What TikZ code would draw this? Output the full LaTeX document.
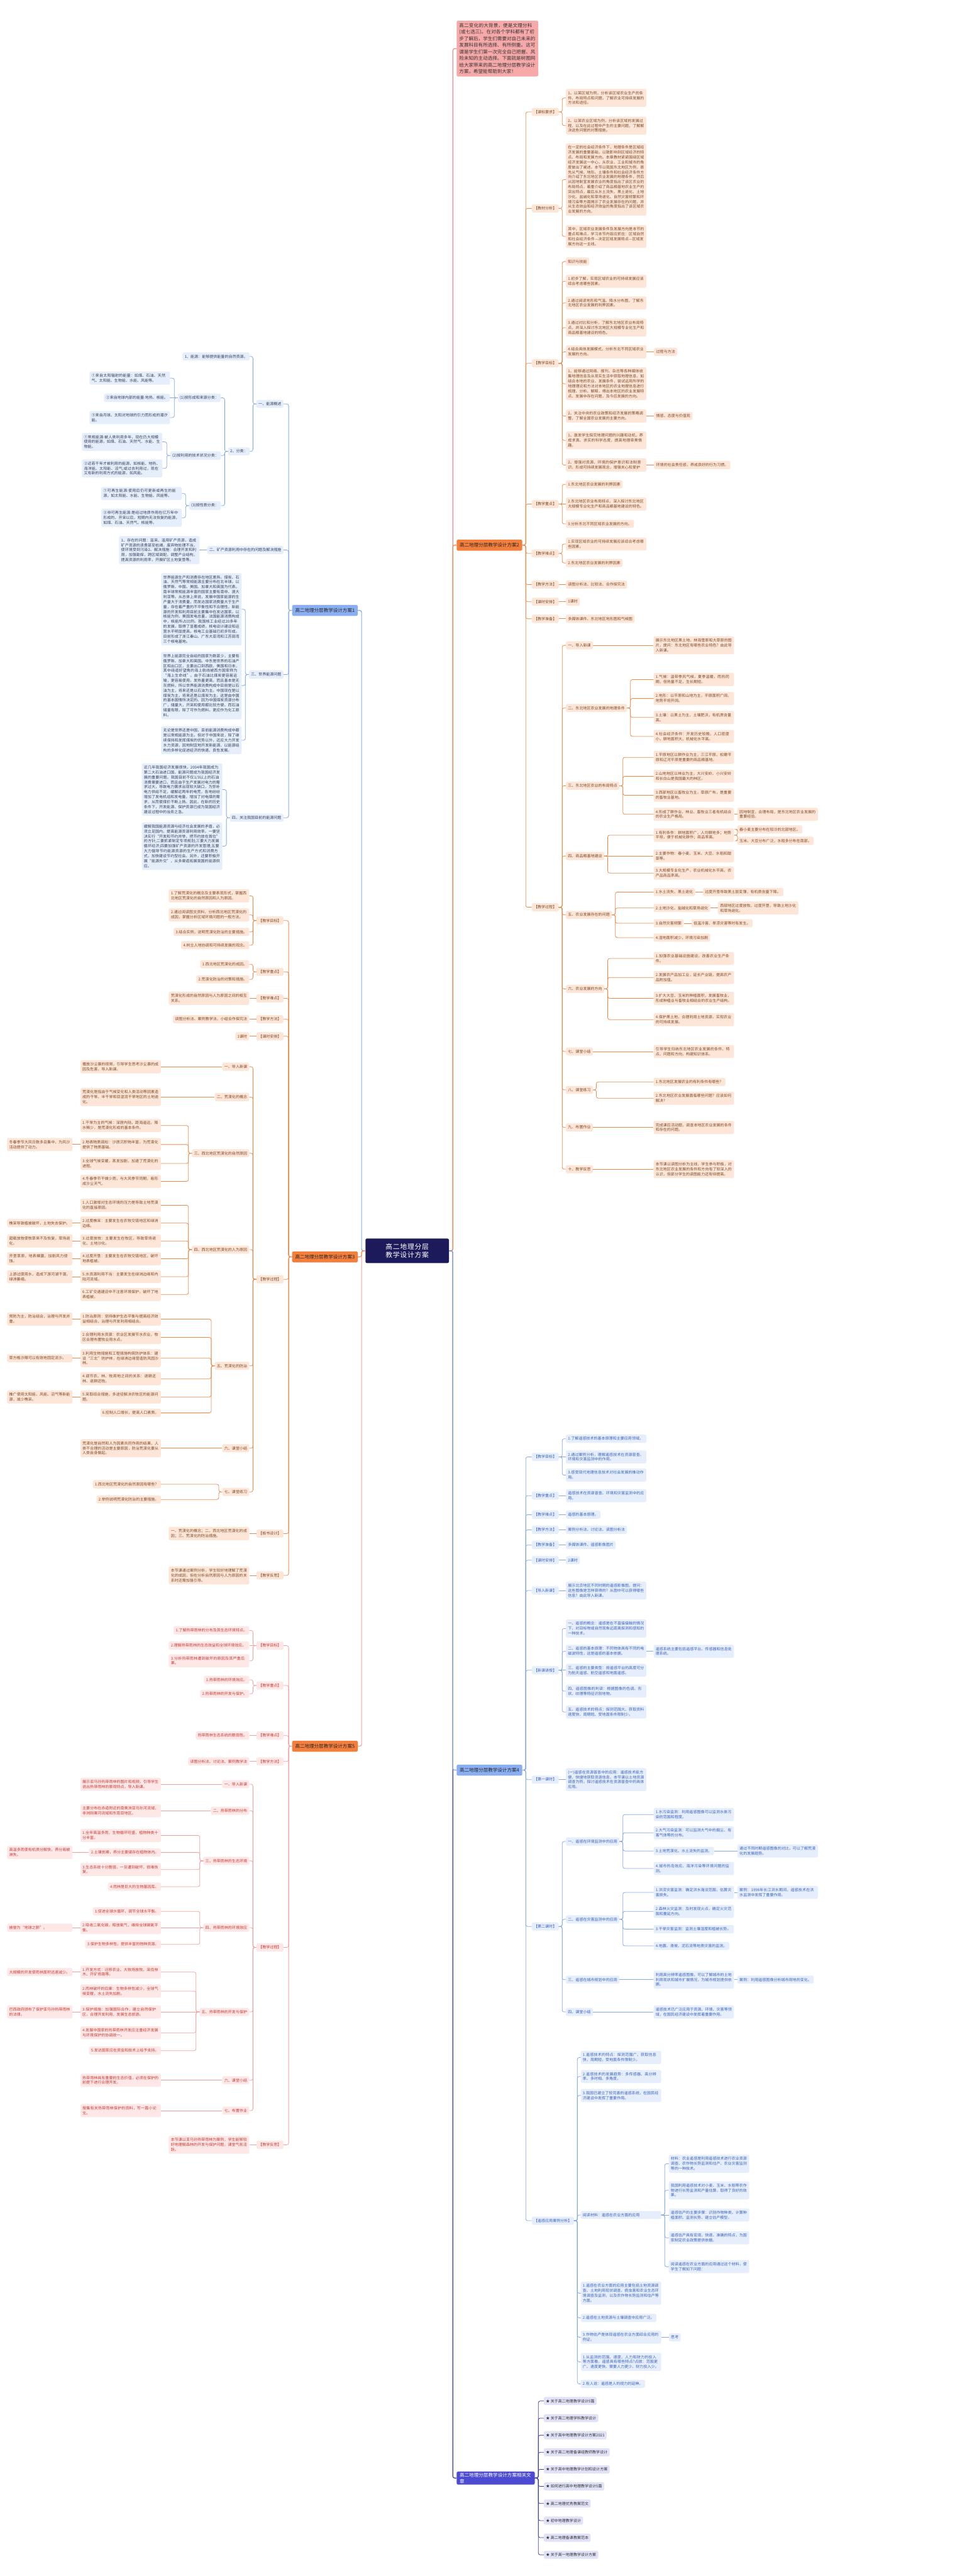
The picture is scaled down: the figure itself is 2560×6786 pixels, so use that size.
\documentclass[tikz,border=0pt]{standalone}
\usepackage{fontspec}
\setmainfont{Noto Sans CJK SC}
\XeTeXlinebreaklocale "zh"
\XeTeXlinebreakskip=0pt plus 1pt
\usetikzlibrary{positioning}
\definecolor{navy}{HTML}{1D1A5B}
\definecolor{rosefill}{HTML}{F7A9A9}
\definecolor{roseline}{HTML}{EC8E8E}
\definecolor{skyfill}{HTML}{89AFF2}
\definecolor{skyline}{HTML}{86A9E4}
\definecolor{skyleaf}{HTML}{E6EEFB}
\definecolor{slate}{HTML}{35415E}
\definecolor{bluetext}{HTML}{3A62BE}
\definecolor{tangerine}{HTML}{F47F3D}
\definecolor{orangeline}{HTML}{E98C4B}
\definecolor{peach}{HTML}{FDE6D7}
\definecolor{umber}{HTML}{7E4A2A}
\definecolor{pinkleaf}{HTML}{FDE7E7}
\definecolor{crimson}{HTML}{C93B33}
\definecolor{pinkline}{HTML}{F2A1A1}
\definecolor{indigo}{HTML}{4C4BD2}
\definecolor{lavender}{HTML}{E1E1F8}
\definecolor{indline}{HTML}{3E3EA8}

\begin{document}
\begin{tikzpicture}[x=1pt,y=-1pt,
  box/.style={font=\fontsize{10}{13}\selectfont, inner xsep=5.5pt, inner ysep=6pt, rounded corners=3pt},
  leaf/.style={box, text width=201pt, align=left},
  slim/.style={box, text width=161pt, align=left},
  org/.style={fill=peach, text=umber},
  sky/.style={fill=skyleaf, text=slate},
  sea/.style={fill=skyleaf, text=bluetext},
  rose/.style={fill=pinkleaf, text=crimson},
  lav/.style={fill=lavender, text=black!80},
  topic/.style={font=\fontsize{12.5}{16}\selectfont, inner xsep=8pt, minimum height=29pt, rounded corners=4pt, text=black!85},
  lo/.style={draw=orangeline, line width=1.3pt, rounded corners=5pt},
  lb/.style={draw=skyline, line width=1.3pt, rounded corners=5pt},
  lp/.style={draw=pinkline, line width=1.3pt, rounded corners=5pt},
  li/.style={draw=indline, line width=1.3pt, rounded corners=5pt},
  lr/.style={draw=roseline, line width=1.3pt, rounded corners=5pt},
  trunk/.style={line width=2pt}]

\fill[white] (0,0) rectangle (2560,6786);
\useasboundingbox (0,0) rectangle (2560,6786);

% centre and main topics
\node[fill=navy, text=white, font=\fontsize{18}{22}\selectfont, text width=199pt, align=center,
  inner xsep=10.5pt, inner ysep=13pt, rounded corners=4pt] (root) at (1073,3295) {高二地理分层教学设计方案};

\node[fill=rosefill, text=black!80, font=\fontsize{12.5}{17.3}\selectfont, text width=201pt, align=left,
  inner xsep=7pt, inner ysep=7pt, rounded corners=4pt, anchor=west] (intro) at (1203,128)
  {高二变化的大背景，便是文理分科(或七选三)。在对各个学科都有了初步了解后，学生们需要对自己未来的发展科目有所选择、有所侧重。这可谓是学生们第一次完全自己把握、风险未知的主动选择。下面就是树图网给大家带来的高二地理分层教学设计方案，希望能帮助到大家！};

\node[topic, fill=skyfill, anchor=east] (pa) at (943,1608) {高二地理分层教学设计方案1};
\node[topic, fill=tangerine, anchor=west] (pb) at (1203,1436) {高二地理分层教学设计方案2};
\node[topic, fill=tangerine, anchor=east] (pc) at (943,3311) {高二地理分层教学设计方案3};
\node[topic, fill=skyfill, anchor=west] (pd) at (1203,4663) {高二地理分层教学设计方案4};
\node[topic, fill=tangerine, anchor=east] (pe) at (943,4600) {高二地理分层教学设计方案5};
\node[topic, fill=indigo, text=white, text width=190pt, align=left, anchor=west] (pf) at (1203,6528) {高二地理分层教学设计方案相关文章};

% ---------- 方案2 ----------
\foreach \n/\y/\w in {b1/295/课标要求, b2/549/教材分析, b3/957/教学目标, b4/1328/教学重点, b5/1458/教学难点,
  b6/1540/教学方法, b7/1585/课时安排, b8/1630/教学准备, b9/2390/教学过程}
  \node[box,org,anchor=west] (\n) at (1401,\y) {【\w】};

\foreach \n/\y/\w in {
  b1a/258/1、以某区域为例，分析该区域农业生产的条件、布局特点和问题，了解农业可持续发展的方法和途径。,
  b1b/331/2、以某农业区域为例，分析该区域的发展过程，以及在此过程中产生的主要问题，了解解决这些问题的对策措施。,
  b2a/473/在一定的社会经济条件下，地理条件是区域经济发展的重要基础，以致影响到区域经济的特点、布局和发展方向。本章教材紧紧围绕区域经济发展这一中心，从农业、工业和城市的角度做出了阐述。本节以我国东北地区为例，首先从气候、地形、土壤条件和社会经济条件方向介绍了东北地区农业发展的地理条件，然后从因地制宜发展农业的角度指出了该区农业的布局特点，着重介绍了商品粮基地农业生产的突出特点，最后从水土流失、黑土退化、土地沙化、盐碱化和草场退化、自然灾害频繁和环境污染等方面揭示了农业发展存在的问题，并从生态效益和经济效益的角度指出了该区域农业发展的方向。,
  b2b/623/其中，区域农业发展条件及发展方向是本节的重点和难点，学习本节内容应抓住：区域自然和社会经济条件—决定区域发展特点—区域发展方向这一主线。,
  b3b/741/1.初步了解，实现区域农业的可持续发展应该综合考虑哪些因素。,
  b3c/798/2.通过阅读地形和气温、降水分布图，了解东北地区农业发展的利弊因素。,
  b3d/863/3.通过对比和分析，了解东北地区农业布局特点，并深入探讨东北地区大规模专业化生产和商品粮基地建设的特色。,
  b3e/927/4.结合具体发展模式，分析东北不同区域农业发展的方向。,
  b3f/1011/1、能够通过网络、报刊、杂志等各种媒体收集地理信息及从现实生活中获取地理信息，如结合本地的农业、发展条件，尝试运用所学的地理理论和方法对本地区的农业地理信息进行梳理、分析、解释，得出本地区的农业发展特点、发展中存在问题，及今后发展的方向。,
  b3g/1096/2、关注中央的农业政策和经济发展的策略调整，了解全国农业发展的主要方向。,
  b3h/1160/1、激发学生探究地理问题的兴趣和动机，养成求真、求实的科学态度，提高地理审美情趣。,
  b3i/1225/2、增强对资源、环境的保护意识和法制意识，形成可持续发展观念，增强关心和爱护,
  b4b/1328/2.东北地区农业布局特点，深入探讨东北地区大规模专业化生产和商品粮基地建设的特色。,
  b5a/1433/1.实现区域农业的可持续发展应该综合考虑哪些因素。}
  \node[leaf,org,anchor=west] (\n) at (1491,\y) {\w};

\foreach \n/\y/\w in {b3a/689/知识与技能, b4a/1276/1.东北地区农业发展的利弊因素, b4c/1380/3.分析东北不同区域农业发展的方向。,
  b5b/1483/2.东北地区农业发展的利弊因素, b6a/1540/读图分析法、比较法、合作探究法, b7a/1585/1课时,
  b8a/1630/多媒体课件、东北地区地形图和气候图,
  bp1/1700/一、导入新课, bp2/1865/二、东北地区农业发展的地理条件, bp3/2070/三、东北地区农业的布局特点,
  bp4/2255/四、商品粮基地建设, bp5/2410/五、农业发展存在的问题, bp6/2605/六、农业发展的方向,
  bp7/2770/七、课堂小结, bp8/2871/八、课堂练习, bp9/2970/九、布置作业, bp10/3080/十、教学反思}
  \node[box,org,anchor=west] (\n) at (1491,\y) {\w};

\node[box,org,right=20pt of b3e] (b3ex) {过程与方法};
\node[box,org,right=20pt of b3g] (b3gx) {情感、态度与价值观};
\node[box,org,right=20pt of b3i] (b3ix) {环境的社会责任感，养成良好的行为习惯。};

\foreach \n/\y/\w in {
  bp1a/1700/展示东北地区黑土地、林海雪原和大草原的图片，提问：东北地区有哪些农业特色？由此导入新课。,
  bp2a/1790/1.气候：温带季风气候，夏季温暖，雨热同期，但热量不足，生长期短。,
  bp2b/1840/2.地形：以平原和山地为主，平原面积广阔，地势平坦开阔。,
  bp2c/1890/3.土壤：以黑土为主，土壤肥沃，有机质含量高。,
  bp2d/1940/4.社会经济条件：开发历史较晚，人口密度小，耕地面积大，机械化水平高。,
  bp3a/1995/1.平原地区以耕作业为主，三江平原、松嫩平原和辽河平原是重要的商品粮基地。,
  bp3b/2045/2.山地地区以林业为主，大兴安岭、小兴安岭和长白山是我国最大的林区。,
  bp3c/2095/3.西部地区以畜牧业为主，草原广布，是重要的畜牧业基地。,
  bp3d/2145/4.形成了耕作业、林业、畜牧业三者有机结合的农业生产格局。,
  bp4a/2200/1.有利条件：耕地面积广，人均耕地多；地势平坦，便于机械化耕作；商品率高。,
  bp4b/2255/2.主要作物：春小麦、玉米、大豆、水稻和甜菜等。,
  bp4c/2300/3.大规模专业化生产，农业机械化水平高，农产品商品率高。,
  bp6a/2525/1.加强农业基础设施建设，改善农业生产条件。,
  bp6b/2575/2.发展农产品加工业，延长产业链，提高农产品附加值。,
  bp6c/2630/3.扩大大豆、玉米的种植面积，发展畜牧业，形成种植业与畜牧业相结合的农业生产结构。,
  bp6d/2686/4.保护黑土地，合理利用土地资源，实现农业的可持续发展。,
  bp7a/2770/引导学生归纳东北地区农业发展的条件、特点、问题和方向，构建知识体系。,
  bp8b/2893/2.东北地区农业发展面临哪些问题？应该如何解决？,
  bp9a/2970/完成课后活动题，调查本地区农业发展的条件和存在的问题。,
  bp10a/3080/本节课以读图分析为主线，学生参与积极，对东北地区农业发展的条件和方向有了较深入的认识，但部分学生的读图能力还有待提高。}
  \node[leaf,org,anchor=west] (\n) at (1722,\y) {\w};

\foreach \n/\y/\w in {bp5a/2350/1.水土流失、黑土退化, bp5b/2392/2.土地沙化、盐碱化和草场退化,
  bp5c/2432/3.自然灾害频繁, bp5d/2470/4.湿地面积减少，环境污染加剧, bp8a/2850/1.东北地区发展农业的有利条件有哪些？}
  \node[box,org,anchor=west] (\n) at (1722,\y) {\w};

\node[leaf,org,anchor=west] (bp3dx) at (1943,2145) {因地制宜，合理布局，是东北地区农业发展的重要经验。};
\node[box,org,anchor=west] (bp4a1) at (1943,2185) {春小麦主要分布在较冷的北部地区。};
\node[box,org,anchor=west] (bp4a2) at (1943,2215) {玉米、大豆分布广泛，水稻多分布在南部。};
\node[leaf,org,right=20pt of bp5a] (bp5ax) {过度开垦导致黑土层变薄，有机质含量下降。};
\node[leaf,org,right=20pt of bp5b] (bp5bx) {西部地区过度放牧、过度开垦，导致土地沙化和草场退化。};
\node[box,org,right=20pt of bp5c] (bp5cx) {低温冷害、旱涝灾害等时有发生。};

% ---------- 方案1 ----------
\foreach \n/\y/\w in {a1/1064/一、能源概述, a2/1449/二、矿产资源利用中存在的问题及解决措施,
  a3/1777/三、世界能源问题, a4/2154/四、关注我国目前的能源问题}
  \node[box,sky,anchor=east] (\n) at (747,\y) {\w};
\node[box,sky,anchor=east] (a1a) at (658,939) {1、能源：能够提供能量的自然资源。};
\node[box,sky,anchor=east] (a1b) at (658,1189) {2、分类：};
\node[box,sky,anchor=east] (a1b1) at (582,1048) {(1)按形成和来源分类：};
\node[box,sky,anchor=east] (a1b2) at (582,1200) {(2)按利用的技术状况分类：};
\node[box,sky,anchor=east] (a1b3) at (582,1332) {(3)按性质分类：};
\node[leaf,sky,anchor=east] (x1) at (448,996) {①来自太阳辐射的能量：如煤、石油、天然气、太阳能、生物能、水能、风能等。};
\node[box,sky,anchor=east] (x2) at (448,1048) {②来自地球内部的能量:地热、核能。};
\node[leaf,sky,anchor=east] (x3) at (448,1100) {③来自月球、太阳对地球的引力而形成的潮汐能。};
\node[leaf,sky,anchor=east] (y1) at (428,1164) {①常规能源:被人类利用多年，现在仍大规模使用的能源，如煤、石油、天然气、水能、生物能。};
\node[leaf,sky,anchor=east] (y2) at (428,1234) {②近若干年才被利用的能源，如核能、地热、海洋能、太阳能、沼气;或过去利用过，现在又有新的利用方式的能源，如风能。};
\node[leaf,sky,anchor=east] (z1) at (479,1300) {①可再生能源:使用后仍可更新或再生的能源，如太阳能、水能、生物能、风能等。};
\node[leaf,sky,anchor=east] (z2) at (479,1364) {②非可再生能源:是经过地质作用在亿万年中形成的，开采以后，短期内无法恢复的能源，如煤、石油、天然气、核能等。};
\node[leaf,sky,anchor=east] (a2a) at (526,1449) {1、存在的问题：滥采、滥用矿产资源，造成矿产资源的浪费甚至枯竭，废弃物处理不当，使环境受到污染2、解决措施：合理开发和利用，加强勘探，跨区域调配，调整产业结构，提高资源的利用率，开展矿区土地复垦等。};
\node[leaf,sky,anchor=east] (a3a) at (637,1605) {世界能源生产和消费存在地区差异。煤炭、石油、天然气等常规能源主要分布在北半球。以俄罗斯、中国、美国、加拿大和英国为代表。南半球常规能源丰富的国家主要有南非、澳大利亚等。从总体上来说，发展中国家能源的生产量大于消费量，而发达国家消费量大于生产量，存在着严重的不平衡性和不合理性。新能源的开发和利用目前主要集中在发达国家。以核能为例，美国发电总量，法国能源消费构成中，核能所占比例。我国核工业经过20多年的发展，取得了显著成绩，核电设计建设和运营水平明显提高，核电工业基础已初步形成。目前形成了浙江秦山、广东大亚湾和江苏田湾三个核电基地。};
\node[leaf,sky,anchor=east] (a3b) at (637,1806) {世界上能源完全自给的国家为数甚少，主要有俄罗斯、加拿大和英国。中东是世界的石油产区和出口区，主要出口到西欧、美国和日本，其中绕道好望角的海上航线被西方国家称为“海上生命线”。由于石油比煤炭更容易运输，更容易使用，发热量更高，而且基本是无灰燃料，所以世界能源消费构成中目前是以石油为主，将来还是以石油为主。中国现在是以煤炭为主，将来还是以煤炭为主，这是由中国的基本国情所决定的。因为中国煤炭资源分布广，储量大，开采和使用都比较方便。而石油储量有限，除了可作为燃料，更应作为化工原料。};
\node[leaf,sky,anchor=east] (a3c) at (637,1950) {无论是世界还是中国，目前能源消费构成中都是以常规能源为主。但对于中国来说，除了继续保持和发挥煤炭的优势以外，还应大力开发水力资源，因地制宜地开发新能源，以能源结构的多样化促进经济的快速、良性发展。};
\node[leaf,sky,anchor=east] (a4a) at (586,2080) {近几年我国经济发展很快，2004年我国成为第二大石油进口国，能源问题成为我国经济发展的重要问题。我国目前不仅1/3以上的石油消费需要进口，而且由于生产发展对电力的需求过大，导致电力需求出现较大缺口，为弥补电力供给不足，缓解近两年的电荒，各地纷纷增加了发电机组和发电量，增加了对电煤的需求，从而使煤价不断上扬。因此，在新的历史条件下，开发能源、保护资源已成为我国经济建设过程中的当务之急。};
\node[leaf,sky,anchor=east] (a4b) at (586,2229) {缓解我国能源资源与经济社会发展的矛盾，必须立足国内，提高能源资源利用效率。一要坚决实行“开发和节约并举，把节约放在首位”的方针;二要抓紧制定专项规划;三要大力发展循环经济;四要加强矿产资源的开发管理;五要大力倡导节约能源资源的生产方式和消费方式，加快建设节约型社会。另外，还要积极开展“能源外交”，从多渠道拓展我国的能源供应。};

% ---------- 方案3 ----------
\foreach \n/\y/\w in {c1/2425/教学目标, c2/2560/教学重点, c3/2630/教学难点, c4/2685/教学方法,
  c5/2730/课时安排, c6/3370/教学过程, c7/4040/板书设计, c8/4150/教学反思}
  \node[box,org,anchor=east] (\n) at (747,\y) {【\w】};

\foreach \n/\y/\w in {
  c1a/2360/1.了解荒漠化的概念及主要表现形式，掌握西北地区荒漠化的自然原因和人为原因。,
  c1b/2410/2.通过阅读图文资料，分析西北地区荒漠化的成因，掌握分析区域环境问题的一般方法。,
  c3a/2630/荒漠化形成的自然原因与人为原因之间的相互关系。,
  c7a/4040/一、荒漠化的概念；二、西北地区荒漠化的成因；三、荒漠化的防治措施。,
  c8a/4150/本节课通过案例分析，学生较好地理解了荒漠化的成因，但在分析自然原因与人为原因的关系时还需加强引导。}
  \node[leaf,org,anchor=east] (\n) at (657,\y) {\w};

\foreach \n/\y/\w in {c1c/2455/3.结合实例，说明荒漠化防治的主要措施。, c1d/2490/4.树立人地协调和可持续发展的观念。,
  c2a/2540/1.西北地区荒漠化的成因。, c2b/2580/2.荒漠化防治的对策和措施。,
  c4a/2685/读图分析法、案例教学法、小组合作探究法, c5a/2730/1课时,
  q1/2810/一、导入新课, q2/2890/二、荒漠化的概念, q3/3038/三、西北地区荒漠化的自然原因,
  q4/3292/四、西北地区荒漠化的人为原因, q5/3598/五、荒漠化的防治, q6/3815/六、课堂小结, q7/3930/七、课堂练习}
  \node[box,org,anchor=east] (\n) at (657,\y) {\w};

\foreach \n/\y/\w in {
  q1a/2810/播放沙尘暴的视频，引导学生思考沙尘暴的成因及危害，导入新课。,
  q2a/2890/荒漠化是指由于气候变化和人类活动等因素造成的干旱、半干旱和亚湿润干旱地区的土地退化。,
  q3a/2965/1.干旱为主的气候：深居内陆，距海遥远，降水稀少，是荒漠化形成的基本条件。,
  q3b/3015/2.地表物质疏松：沙质沉积物丰富，为荒漠化提供了物质基础。,
  q3c/3065/3.全球气候变暖，蒸发加剧，加速了荒漠化的进程。,
  q3d/3112/4.冬春季节干燥少雨，与大风季节同期，易形成沙尘天气。,
  q4a/3175/1.人口激增对生态环境的压力是导致土地荒漠化的直接原因。,
  q4b/3222/2.过度樵采：主要发生在农牧交错地区和绿洲边缘。,
  q4c/3269/3.过度放牧：主要发生在牧区，导致草场退化，土地沙化。,
  q4d/3316/4.过度开垦：主要发生在农牧交错地区，破坏地表植被。,
  q4e/3363/5.水资源利用不当：主要发生在绿洲边缘和内陆河流域。,
  q4f/3410/6.工矿交通建设中不注意环境保护，破坏了地表植被。,
  q5a/3475/1.防治原则：坚持维护生态平衡与提高经济效益相结合，治理与开发利用相结合。,
  q5b/3523/2.合理利用水资源：农业区发展节水农业，牧区合理布置牧业用水点。,
  q5c/3578/3.利用生物措施和工程措施构筑防护体系：建设“三北”防护林，在绿洲边缘营造防风固沙林。,
  q5d/3632/4.调节农、林、牧用地之间的关系：退耕还林、退耕还牧。,
  q5e/3680/5.采取综合措施，多途径解决农牧区的能源问题。,
  q6a/3815/荒漠化是自然和人为因素共同作用的结果，人类不合理的活动是主要原因，防治荒漠化要从人类自身做起。}
  \node[leaf,org,anchor=east] (\n) at (424,\y) {\w};

\foreach \n/\y/\w in {q5f/3722/6.控制人口增长，提高人口素质。, q7a/3910/1.西北地区荒漠化的自然原因有哪些？,
  q7b/3950/2.举例说明荒漠化防治的主要措施。}
  \node[box,org,anchor=east] (\n) at (424,\y) {\w};

\foreach \n/\y/\w in {q3bx/3015/冬春季节大风日数多且集中，为风沙活动提供了动力。,
  q4bx/3222/樵采导致植被破坏，土地失去保护。, q4cx/3269/超载放牧使牧草来不及恢复，草场退化。,
  q4dx/3316/开垦草原，地表裸露，加剧风力侵蚀。, q4ex/3363/上游过度用水，造成下游河湖干涸，绿洲萎缩。,
  q5ax/3475/预防为主，防治结合，治理与开发并重。, q5cx/3578/草方格沙障可以有效地固定流沙。,
  q5ex/3680/推广使用太阳能、风能、沼气等新能源，减少樵采。}
  \node[slim,org,anchor=east] (\n) at (191,\y) {\w};

% ---------- 方案5 ----------
\foreach \n/\y/\w in {e1/4335/教学目标, e2/4440/教学重点, e3/4572/教学难点, e4/4640/教学方法,
  e5/5130/教学过程, e6/5650/教学反思}
  \node[box,rose,anchor=east] (\n) at (747,\y) {【\w】};

\foreach \n/\y/\w in {e1a/4295/1.了解热带雨林的分布及其生态环境特点。, e2a/4425/1.热带雨林的环境效应。,
  e2b/4462/2.热带雨林的开发与保护。, e3a/4572/热带雨林生态系统的脆弱性。, e4a/4640/读图分析法、讨论法、案例教学法,
  r1/4700/一、导入新课, r2/4770/二、热带雨林的分布, r3/4902/三、热带雨林的生态环境,
  r4/5078/四、热带雨林的环境效应, r5/5300/五、热带雨林的开发与保护, r6/5480/六、课堂小结, r7/5560/七、布置作业}
  \node[box,rose,anchor=east] (\n) at (657,\y) {\w};

\foreach \n/\y/\w in {e1b/4335/2.理解热带雨林的生态效益和全球环境效应。, e1c/4375/3.分析热带雨林遭到破坏的原因及其严重后果。,
  e6a/5650/本节课以亚马孙热带雨林为案例，学生能够较好地理解森林的开发与保护问题，课堂气氛活跃。}
  \node[leaf,rose,anchor=east] (\n) at (657,\y) {\w};

\foreach \n/\y/\w in {
  r1a/4700/展示亚马孙热带雨林的图片和视频，引导学生说出热带雨林的景观特点，导入新课。,
  r2a/4770/主要分布在赤道附近的南美洲亚马孙河流域、非洲刚果河流域和东南亚地区。,
  r3a/4835/1.全年高温多雨，生物循环旺盛，植物种类十分丰富。,
  r3c/4925/3.生态系统十分脆弱，一旦遭到破坏，很难恢复。,
  r4b/5078/2.吸收二氧化碳，释放氧气，维持全球碳氧平衡。,
  r5a/5195/1.开发方式：迁移农业、大牧场放牧、采伐林木、开矿修路等。,
  r5b/5245/2.雨林破坏的后果：生物多样性减少，全球气候变暖，水土流失加剧。,
  r5c/5300/3.保护措施：加强国际合作，建立自然保护区，合理开发利用，发展生态旅游。,
  r5d/5355/4.发展中国家的热带雨林开发应注重经济发展与环境保护的协调统一。,
  r6a/5480/热带雨林具有重要的生态价值，必须在保护的前提下进行合理开发。,
  r7a/5560/搜集有关热带雨林保护的资料，写一篇小论文。}
  \node[leaf,rose,anchor=east] (\n) at (424,\y) {\w};

\foreach \n/\y/\w in {r3b/4880/2.土壤贫瘠，养分主要储存在植物体内。, r3d/4970/4.雨林是巨大的生物基因库。,
  r4a/5035/1.促进全球水循环，调节全球水平衡。, r4c/5122/3.保护生物多样性，提供丰富的物种资源。,
  r5e/5402/5.发达国家应在资金和技术上给予支持。}
  \node[box,rose,anchor=east] (\n) at (424,\y) {\w};

\foreach \n/\y/\w in {r3bx/4880/高温多雨使有机质分解快，养分易被淋失。, r4bx/5078/被誉为“地球之肺”。,
  r5ax/5195/大规模的开发使雨林面积迅速减少。, r5cx/5300/巴西政府颁布了保护亚马孙热带雨林的法律。}
  \node[slim,rose,anchor=east] (\n) at (191,\y) {\w};

% ---------- 方案4 ----------
\foreach \n/\y/\w in {f1/3838/【教学目标】, f2/3940/【教学重点】, f3/3990/【教学难点】, f4/4030/【教学方法】,
  f5/4070/【教学准备】, f6/4110/【课时安排】, f7/4190/【导入新课】, f8/4400/【新课讲授】,
  f9/4688/【第一课时】, f10/5075/【第二课时】, f11/5850/【遥感应用案例分析】}
  \node[box,sea,anchor=west] (\n) at (1401,\y) {\w};

\foreach \n/\y/\w in {
  f1a/3790/1.了解遥感技术的基本原理和主要应用领域。,
  f1b/3838/2.通过案例分析，理解遥感技术在资源普查、环境和灾害监测中的作用。,
  f1c/3886/3.感受现代地理信息技术对社会发展的推动作用。,
  f2a/3940/遥感技术在资源普查、环境和灾害监测中的应用。,
  f7a/4190/展示北京地区不同时期的遥感影像图，提问：这些图像是怎样获得的？从图中可以获得哪些信息？由此导入新课。,
  f8a/4290/一、遥感的概念：遥感是在不直接接触的情况下，对目标物或自然现象远距离探测和感知的一种技术。,
  f8b/4350/二、遥感的基本原理：不同物体具有不同的电磁波特性，这是遥感的基本依据。,
  f8c/4400/三、遥感的主要类型：按遥感平台的高度可分为航天遥感、航空遥感和地面遥感。,
  f8d/4455/四、遥感图像的判读：根据图像的色调、形状、纹理等特征识别地物。,
  f8e/4510/五、遥感技术的特点：探测范围大、获取资料速度快、周期短、受地面条件限制少。,
  f9a/4688/(一)遥感在资源普查中的应用：遥感技术能方便、快捷地获取资源信息，本节课以土地资源调查为例，探讨遥感技术在资源普查中的具体应用。}
  \node[leaf,sea,anchor=west] (\n) at (1491,\y) {\w};

\foreach \n/\y/\w in {f3a/3990/遥感的基本原理。, f4a/4030/案例分析法、讨论法、读图分析法, f5a/4070/多媒体课件、遥感影像图片,
  f6a/4110/2课时, s1/4851/一、遥感在环境监测中的应用, s2/5056/二、遥感在灾害监测中的应用,
  s3/5215/三、遥感在城市规划中的应用, s4/5300/四、课堂小结}
  \node[box,sea,anchor=west] (\n) at (1491,\y) {\w};

\foreach \n/\y/\w in {
  f8bx/4350/遥感系统主要包括遥感平台、传感器和信息处理系统。,
  s1a/4780/1.水污染监测：利用遥感图像可以监测水体污染的范围和程度。,
  s1b/4828/2.大气污染监测：可以监测大气中的烟尘、有害气体等的分布。,
  s1d/4922/4.城市热岛效应、海洋污染等环境问题的监测。,
  s2a/4985/1.洪涝灾害监测：确定洪水淹没范围，估算灾害损失。,
  s2b/5035/2.森林火灾监测：及时发现火点，确定火灾范围和蔓延方向。,
  s2c/5082/3.干旱灾害监测：监测土壤湿度和植被长势。,
  s3a/5215/利用高分辨率遥感图像，可以了解城市的土地利用现状和城市扩展情况，为城市规划提供依据。,
  s4a/5300/遥感技术已广泛应用于资源、环境、灾害等领域，在国民经济建设中发挥着重要作用。}
  \node[leaf,sea,anchor=west] (\n) at (1722,\y) {\w};

\node[box,sea,anchor=west] (s1c) at (1722,4876) {3.土地荒漠化、水土流失的监测。};
\node[box,sea,anchor=west] (s2d) at (1722,5126) {4.地震、滑坡、泥石流等地质灾害的监测。};
\node[leaf,sea,anchor=west] (s1cx) at (1943,4876) {通过不同时期遥感图像的对比，可以了解荒漠化的发展趋势。};
\node[leaf,sea,anchor=west] (s2ax) at (1943,4985) {案例：1998年长江洪水期间，遥感技术在洪水监测中发挥了重要作用。};
\node[box,sea,anchor=west] (s3ax) at (1943,5215) {案例：利用遥感图像分析城市用地的变化。};

\foreach \n/\y/\w in {
  t1/5420/1.遥感技术的特点：探测范围广，获取信息快，周期短，受地面条件限制少。,
  t2/5470/2.遥感技术的发展趋势：多传感器、高分辨率、多时相、多角度。,
  t3/5520/3.我国已建立了较完善的遥感系统，在国民经济建设中发挥了重要作用。,
  t4/5835/阅读材料：遥感在农业方面的应用,
  t5/6041/1.遥感在农业方面的应用主要包括土地资源调查、土地利用现状调查、病虫害和农业生态环境调查及监测，以及农作物长势监测和估产等方面。,
  t7/6157/3.作物估产是体现遥感在农业方面综合应用的例证。,
  t8/6222/1.从监测的范围、速度、人力和财力的投入等方面看，遥感具有哪些特点?点拨：范围更广、速度更快、需要人力更少、财力投入少。}
  \node[leaf,sea,anchor=west] (\n) at (1530,\y) {\w};
\node[box,sea,anchor=west] (t6) at (1530,6106) {2.遥感在土地资源与土壤调查中应用广泛。};
\node[box,sea,anchor=west] (t9) at (1530,6280) {2.有人说：遥感是人的视力的延伸。};
\node[box,sea,right=20pt of t7] (t7x) {思考};

\foreach \n/\y/\w in {
  u1/5700/材料：农业遥感是利用遥感技术进行农业资源调查、农作物长势监测和估产、农业灾害监测等的一种技术。,
  u2/5770/我国利用遥感技术对小麦、玉米、水稻等农作物进行长势监测和产量估算，取得了良好的效果。,
  u3/5835/遥感估产的主要步骤：识别作物种类、计算种植面积、监测长势、建立估产模型。,
  u4/5895/遥感估产具有宏观、快速、准确的特点，为国家制定农业政策提供依据。,
  u5/5971/阅读遥感在农业方面的应用通过这个材料，使学生了解如下问题：}
  \node[leaf,sea,anchor=west] (\n) at (1762,\y) {\w};

% ---------- 相关文章 ----------
\foreach \w [count=\i] in {关于高二地理教学设计5篇, 关于高二地理学科教学设计, 关于高中地理教学设计方案2021,
  关于高二地理备课组教师教学设计, 关于高中地理教学计划和设计方案, 如何进行高中地理教学设计5篇,
  高二地理优秀教案范文, 初中地理教学设计, 高二地理备课教案范本, 关于高一地理教学设计方案}
  \node[box,lav,anchor=west] (g\i) at (1433,6280+45*\i) {★ \w};

% ---------- connectors ----------
\draw[lr,trunk] (root.east) -- ++(10,0) |- (intro.west);
\draw[lo,trunk] (root.east) -- ++(10,0) |- (pb.west);
\draw[li,trunk] (root.east) -- ++(10,0) |- (pf.west);
\draw[lb,trunk] (root.east) -- ++(10,0) |- (pd.west);
\draw[lb,trunk] (root.west) -- ++(-10,0) |- (pa.east);
\draw[lp,trunk] (root.west) -- ++(-10,0) |- (pe.east);
\draw[lo,trunk] (root.west) -- ++(-10,0) |- (pc.east);

\foreach \i in {1,...,9} \draw[lo] (pb.east) -- ++(9,0) |- (b\i.west);
\foreach \p/\c in {b1/b1a, b1/b1b, b2/b2a, b2/b2b, b3/b3a, b3/b3b, b3/b3c, b3/b3d, b3/b3e, b3/b3f, b3/b3g,
  b3/b3h, b3/b3i, b4/b4a, b4/b4c, b5/b5a, b5/b5b, bp2/bp2a, bp2/bp2b, bp2/bp2c, bp2/bp2d,
  bp3/bp3a, bp3/bp3b, bp3/bp3c, bp3/bp3d, bp4/bp4a, bp4/bp4c, bp4a/bp4a1, bp4a/bp4a2,
  bp5/bp5a, bp5/bp5b, bp5/bp5c, bp5/bp5d, bp6/bp6a, bp6/bp6b, bp6/bp6c, bp6/bp6d, bp8/bp8a, bp8/bp8b}
  \draw[lo] (\p.east) -- ++(9,0) |- (\c.west);
\foreach \i in {1,...,10} \draw[lo] (b9.east) -- ++(9,0) |- (bp\i.west);
\foreach \p/\c in {b3e/b3ex, b3g/b3gx, b3i/b3ix, b4/b4b, b6/b6a, b7/b7a, b8/b8a, bp1/bp1a, bp3d/bp3dx,
  bp4/bp4b, bp5a/bp5ax, bp5b/bp5bx, bp5c/bp5cx, bp7/bp7a, bp9/bp9a, bp10/bp10a}
  \draw[lo] (\p.east) -- (\c.west);

\foreach \p/\c in {pa/a1, pa/a2, pa/a3, pa/a4, a1/a1a, a1/a1b, a1b/a1b1, a1b/a1b2, a1b/a1b3, a1b1/x1, a1b1/x3,
  a1b2/y1, a1b2/y2, a1b3/z1, a1b3/z2, a3/a3a, a3/a3b, a3/a3c, a4/a4a, a4/a4b}
  \draw[lb] (\p.west) -- ++(-9,0) |- (\c.east);
\foreach \p/\c in {a1b1/x2, a2/a2a} \draw[lb] (\p.west) -- (\c.east);

\foreach \i in {1,...,8} \draw[lo] (pc.west) -- ++(-9,0) |- (c\i.east);
\foreach \i in {1,...,7} \draw[lo] (c6.west) -- ++(-9,0) |- (q\i.east);
\foreach \p/\c in {c1/c1a, c1/c1b, c1/c1c, c1/c1d, c2/c2a, c2/c2b, q3/q3a, q3/q3b, q3/q3c, q3/q3d,
  q4/q4a, q4/q4b, q4/q4c, q4/q4d, q4/q4e, q4/q4f, q5/q5a, q5/q5b, q5/q5c, q5/q5d, q5/q5e, q5/q5f,
  q7/q7a, q7/q7b}
  \draw[lo] (\p.west) -- ++(-9,0) |- (\c.east);
\foreach \p/\c in {c3/c3a, c4/c4a, c5/c5a, c7/c7a, c8/c8a, q1/q1a, q2/q2a, q6/q6a, q3b/q3bx, q4b/q4bx,
  q4c/q4cx, q4d/q4dx, q4e/q4ex, q5a/q5ax, q5c/q5cx, q5e/q5ex}
  \draw[lo] (\p.west) -- (\c.east);

\foreach \i in {1,...,6} \draw[lp] (pe.west) -- ++(-9,0) |- (e\i.east);
\foreach \i in {1,...,7} \draw[lp] (e5.west) -- ++(-9,0) |- (r\i.east);
\foreach \p/\c in {e1/e1a, e1/e1c, e2/e2a, e2/e2b, r3/r3a, r3/r3b, r3/r3c, r3/r3d, r4/r4a, r4/r4c,
  r5/r5a, r5/r5b, r5/r5d, r5/r5e}
  \draw[lp] (\p.west) -- ++(-9,0) |- (\c.east);
\foreach \p/\c in {e1/e1b, e3/e3a, e4/e4a, e6/e6a, r1/r1a, r2/r2a, r4/r4b, r5/r5c, r6/r6a, r7/r7a,
  r3b/r3bx, r4b/r4bx, r5a/r5ax, r5c/r5cx}
  \draw[lp] (\p.west) -- (\c.east);

\foreach \i in {1,...,11} \draw[lb] (pd.east) -- ++(9,0) |- (f\i.west);
\foreach \p/\c in {f1/f1a, f1/f1c, f8/f8a, f8/f8b, f8/f8d, f8/f8e, f10/s1, f10/s2, f10/s3, f10/s4,
  s1/s1a, s1/s1b, s1/s1c, s1/s1d, s2/s2a, s2/s2b, s2/s2c, s2/s2d,
  f11/t1, f11/t2, f11/t3, f11/t4, f11/t5, f11/t6, f11/t7, f11/t8, f11/t9, t4/u1, t4/u2, t4/u4, t4/u5}
  \draw[lb] (\p.east) -- ++(9,0) |- (\c.west);
\foreach \p/\c in {f1/f1b, f2/f2a, f3/f3a, f4/f4a, f5/f5a, f6/f6a, f7/f7a, f8/f8c, f9/f9a, f8b/f8bx,
  s1c/s1cx, s2a/s2ax, s3/s3a, s3a/s3ax, s4/s4a, t4/u3, t7/t7x}
  \draw[lb] (\p.east) -- (\c.west);

\foreach \i in {1,...,10} \draw[li] (pf.east) -- ++(9,0) |- (g\i.west);

\end{tikzpicture}
\end{document}
